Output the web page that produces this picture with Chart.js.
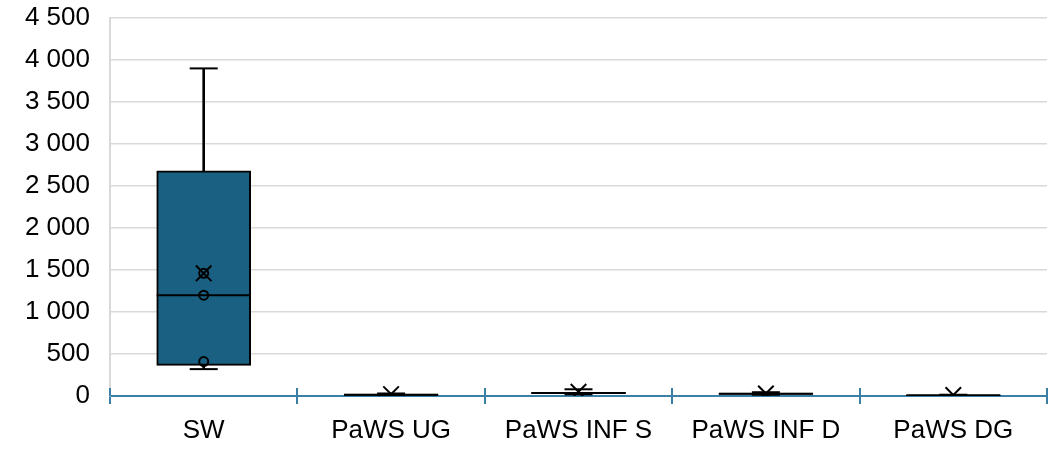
<!DOCTYPE html>
<html>
<head>
<meta charset="utf-8">
<script src="https://cdn.jsdelivr.net/npm/chart.js@4/dist/chart.umd.min.js"></script>
<style>
  html, body { margin: 0; padding: 0; background: #fff; overflow: hidden; }
  canvas { display: block; }
</style>
</head>
<body>
<canvas id="myChart" width="1056" height="449"></canvas>
<script>
// box plot values
var categories = ["SW", "PaWS UG", "PaWS INF S", "PaWS INF D", "PaWS DG"];
var minValues = [320, 2, 20, 15, 3];
var q1Values = [365, 8, 28, 20, 5];
var medianValues = [1200, 15, 35, 28, 8];
var q3Values = [2680, 22, 45, 35, 12];
var maxValues = [3900, 30, 80, 45, 15];
var meanValues = [1460, 22, 50, 30, 12];
var innerPoints = [["SW", 410], ["SW", 1200], ["SW", 1460]];
var yTicks = [0, 500, 1000, 1500, 2000, 2500, 3000, 3500, 4000, 4500];

var boxColor = "#1a6083";
var axisColor = "#3a7fa6";
var font = "'Liberation Sans', Arial, sans-serif";

// upper half of the category tick marks on the x axis
var upTicks = {
  id: "upTicks",
  afterDraw: function (chart) {
    var xs = chart.scales.x;
    var ctx = chart.ctx;
    ctx.save();
    ctx.strokeStyle = axisColor;
    ctx.lineWidth = 2;
    for (var i = 0; i <= categories.length; i++) {
      var px = Math.round(xs.getPixelForValue(i - 0.5));
      ctx.beginPath();
      ctx.moveTo(px, xs.top - 8);
      ctx.lineTo(px, xs.top);
      ctx.stroke();
    }
    ctx.restore();
  }
};

new Chart("myChart", {
  type: "bar",
  data: {
    labels: categories,
    datasets: [
      {
        label: "whisker low",
        data: categories.map(function (c, i) { return [minValues[i], q1Values[i]]; }),
        backgroundColor: "#000",
        barThickness: 2,
        grouped: false,
        order: 6
      },
      {
        label: "whisker high",
        data: categories.map(function (c, i) { return [q3Values[i], maxValues[i]]; }),
        backgroundColor: "#000",
        barThickness: 2,
        grouped: false,
        order: 6
      },
      {
        label: "box",
        data: categories.map(function (c, i) { return [q1Values[i], q3Values[i]]; }),
        backgroundColor: boxColor,
        borderColor: "#000",
        borderWidth: 2,
        borderSkipped: false,
        barThickness: 94,
        grouped: false,
        order: 5
      },
      {
        type: "line",
        label: "caps",
        data: categories.map(function (c, i) { return { x: c, y: maxValues[i] }; })
          .concat(categories.map(function (c, i) { return { x: c, y: minValues[i] }; })),
        showLine: false,
        pointStyle: "line",
        pointRadius: 14,
        borderColor: "#000",
        borderWidth: 2,
        order: 4
      },
      {
        type: "line",
        label: "median",
        data: categories.map(function (c, i) { return { x: c, y: medianValues[i] }; }),
        showLine: false,
        pointStyle: "line",
        pointRadius: 47,
        borderColor: "#000",
        borderWidth: 2,
        order: 3
      },
      {
        type: "line",
        label: "points",
        data: innerPoints.map(function (p) { return { x: p[0], y: p[1] }; }),
        showLine: false,
        pointStyle: "circle",
        pointRadius: 4.5,
        backgroundColor: "rgba(0,0,0,0)",
        borderColor: "#000",
        borderWidth: 2,
        order: 2
      },
      {
        type: "line",
        label: "mean",
        data: categories.map(function (c, i) { return { x: c, y: meanValues[i] }; }),
        showLine: false,
        pointStyle: "crossRot",
        pointRadius: 11,
        borderColor: "#000",
        borderWidth: 2,
        order: 1
      }
    ]
  },
  options: {
    responsive: false,
    animation: false,
    layout: { autoPadding: false, padding: { left: 0, right: 9, top: 18, bottom: 4 } },
    plugins: {
      legend: { display: false },
      tooltip: { enabled: false }
    },
    scales: {
      x: {
        offset: true,
        afterFit: function (axis) { axis.height = 49; },
        grid: {
          offset: true,
          drawOnChartArea: false,
          drawTicks: true,
          tickLength: 8,
          color: axisColor,
          lineWidth: 2
        },
        border: { color: axisColor, width: 2 },
        ticks: { color: "#000", font: { family: font, size: 26 }, padding: 11 }
      },
      y: {
        min: 0,
        max: 4500,
        afterBuildTicks: function (axis) {
          axis.ticks = yTicks.map(function (v) { return { value: v }; });
        },
        afterFit: function (axis) {
          axis.width = 110;
          axis.paddingTop = 0;
          axis.paddingBottom = 0;
        },
        grid: { color: "#d9d9d9", lineWidth: 1.5, drawTicks: false },
        border: { color: "#d9d9d9", width: 2 },
        ticks: {
          color: "#000",
          font: { family: font, size: 26 },
          padding: 20,
          callback: function (v) {
            return String(v).replace(/\B(?=(\d{3})+(?!\d))/g, " ");
          }
        }
      }
    }
  },
  plugins: [upTicks]
});
</script>
</body>
</html>
